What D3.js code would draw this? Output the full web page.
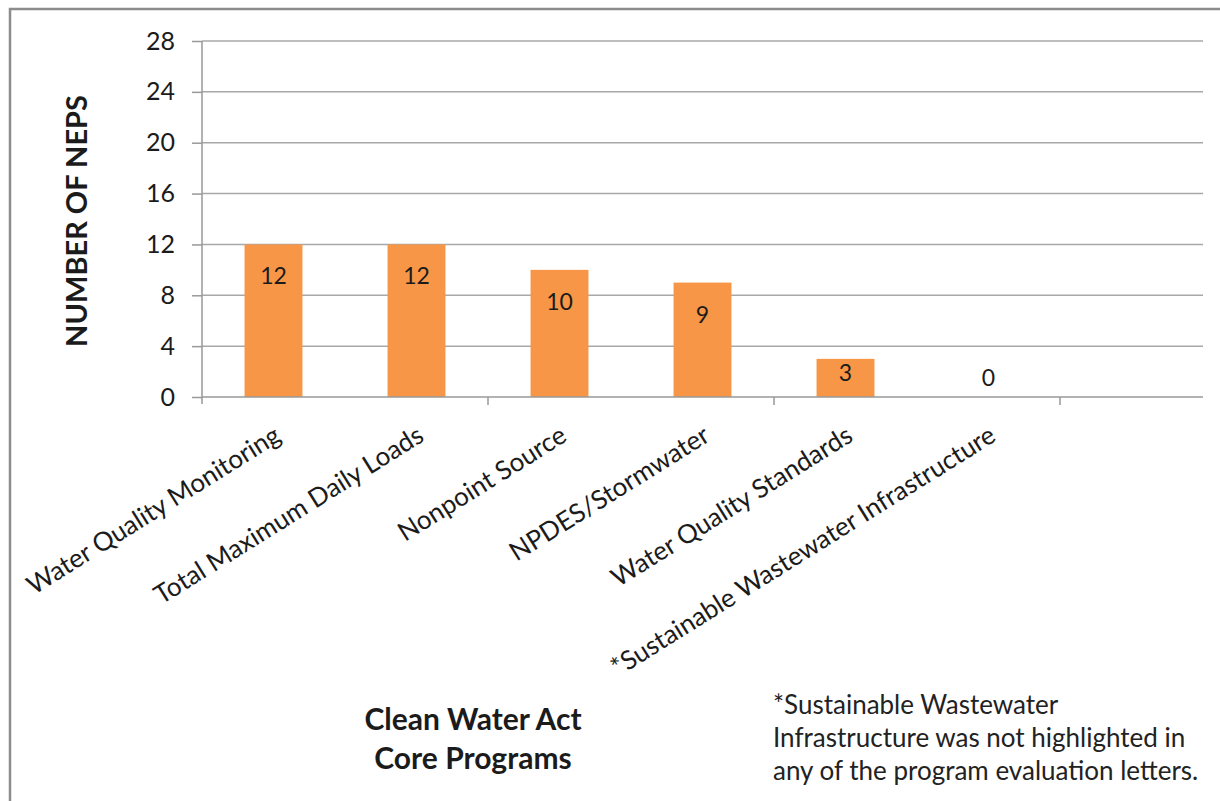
<!DOCTYPE html>
<html>
<head>
<meta charset="utf-8">
<script src="https://cdn.jsdelivr.net/npm/d3@7"></script>
<style>
  html, body { margin: 0; padding: 0; background: #fff; }
  svg text { font-family: Lato, "Open Sans", sans-serif; fill: #1b1b1b; }
</style>
</head>
<body>
<svg id="chart" width="1220" height="801"></svg>
<script>
// Clean Water Act core programs addressed by NEPs
const categories = [
  "Water Quality Monitoring",
  "Total Maximum Daily Loads",
  "Nonpoint Source",
  "NPDES/Stormwater",
  "Water Quality Standards",
  "*Sustainable Wastewater Infrastructure",
  ""
];
const values = [12, 12, 10, 9, 3, 0, null];
const yTicks = [0, 4, 8, 12, 16, 20, 24, 28];
const yTitle = "NUMBER OF NEPS";
const xTitle = ["Clean Water Act", "Core Programs"];
const footnote = [
  "*Sustainable Wastewater",
  "Infrastructure was not highlighted in",
  "any of the program evaluation letters."
];

const svg = d3.select("#chart");
const plot = { left: 202, right: 1203, top: 41, bottom: 397 };

// outer frame of the chart area
svg.append("rect")
  .attr("x", 10).attr("y", 9)
  .attr("width", 1230).attr("height", 820)
  .attr("fill", "none").attr("stroke", "#8c8c8c").attr("stroke-width", 2.5);

const x = d3.scaleBand()
  .domain(d3.range(categories.length))
  .range([plot.left, plot.right])
  .paddingInner(0).paddingOuter(0);

const y = d3.scaleLinear().domain([0, 28]).range([plot.bottom, plot.top]);

// horizontal gridlines
svg.append("g")
  .selectAll("line")
  .data(yTicks.filter(d => d > 0))
  .join("line")
  .attr("x1", plot.left).attr("x2", plot.right)
  .attr("y1", d => y(d)).attr("y2", d => y(d))
  .attr("stroke", "#a8a8a8").attr("stroke-width", 1.5);

// y axis
const yAxis = svg.append("g")
  .attr("transform", `translate(${plot.left},0)`)
  .call(d3.axisLeft(y).tickValues(yTicks).tickSize(10).tickPadding(17));
yAxis.select(".domain").remove();
yAxis.selectAll(".tick line").attr("stroke", "#999").attr("stroke-width", 1.5);
yAxis.selectAll(".tick text")
  .attr("font-size", 25).attr("fill", "#1b1b1b")
  .style("font-family", "Lato, sans-serif");
svg.append("line")
  .attr("x1", plot.left).attr("x2", plot.left)
  .attr("y1", plot.top).attr("y2", plot.bottom + 7)
  .attr("stroke", "#999").attr("stroke-width", 1.5);

// bars
const barW = x.bandwidth() * 0.405;
const barData = values.map((v, i) => ({ v, i })).filter(d => d.v !== null);
svg.append("g")
  .selectAll("rect")
  .data(barData)
  .join("rect")
  .attr("x", d => x(d.i) + (x.bandwidth() - barW) / 2)
  .attr("width", barW)
  .attr("y", d => y(d.v))
  .attr("height", d => y(0) - y(d.v))
  .attr("fill", "#f79646");

// x axis baseline with a tick at every second category boundary
svg.append("line")
  .attr("x1", plot.left).attr("x2", plot.right)
  .attr("y1", plot.bottom).attr("y2", plot.bottom)
  .attr("stroke", "#999").attr("stroke-width", 1.5);
svg.append("g")
  .selectAll("line")
  .data(d3.range(2, categories.length, 2))
  .join("line")
  .attr("x1", i => x(i)).attr("x2", i => x(i))
  .attr("y1", plot.bottom).attr("y2", plot.bottom + 8)
  .attr("stroke", "#999").attr("stroke-width", 1.5);

// value labels
svg.append("g")
  .selectAll("text")
  .data(barData)
  .join("text")
  .attr("x", d => x(d.i) + x.bandwidth() / 2)
  .attr("y", d => {
    const h = y(0) - y(d.v);
    if (h <= 0) return y(0) - 11;
    if (h < 60) return y(d.v) + h / 2 + 3;
    return y(d.v) + 40;
  })
  .attr("text-anchor", "middle")
  .attr("font-size", 23)
  .text(d => d.v);

// rotated category labels
svg.append("g")
  .selectAll("text")
  .data(categories.map((c, i) => ({ c, i })).filter(d => d.c))
  .join("text")
  .attr("transform", d => `translate(${x(d.i) + x.bandwidth() / 2 + 9},${plot.bottom + 43}) rotate(-32)`)
  .attr("text-anchor", "end")
  .attr("font-size", 26)
  .text(d => d.c);

// y axis title
svg.append("text")
  .attr("transform", `translate(87,${(plot.top + plot.bottom) / 2 + 2}) rotate(-90)`)
  .attr("text-anchor", "middle")
  .attr("font-size", 29)
  .attr("font-weight", 700)
  .text(yTitle);

// x axis title
svg.append("text")
  .attr("x", 473).attr("y", 730)
  .attr("text-anchor", "middle")
  .attr("font-size", 30)
  .attr("font-weight", 700)
  .selectAll("tspan")
  .data(xTitle)
  .join("tspan")
  .attr("x", 473)
  .attr("dy", (d, i) => i ? 39 : 0)
  .text(d => d);

// footnote
svg.append("text")
  .attr("x", 773).attr("y", 714)
  .attr("font-size", 26)
  .style("fill", "#222")
  .selectAll("tspan")
  .data(footnote)
  .join("tspan")
  .attr("x", 773)
  .attr("dy", (d, i) => i ? 33 : 0)
  .text(d => d);
</script>
</body>
</html>
